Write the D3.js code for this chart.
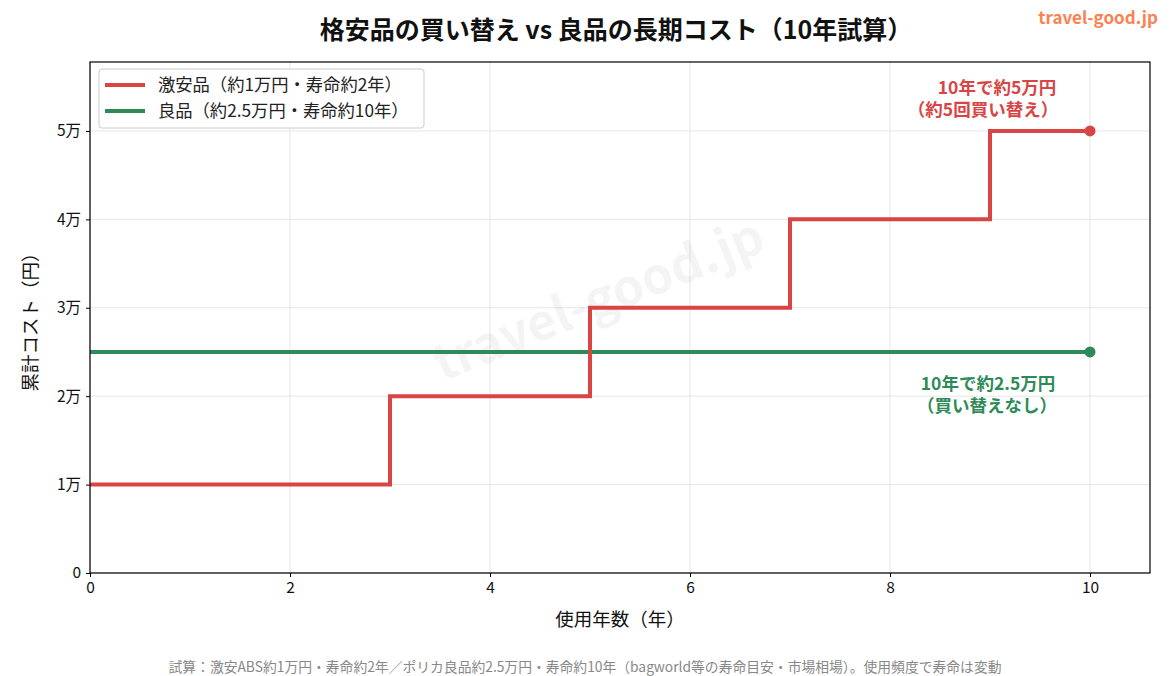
<!DOCTYPE html>
<html>
<head>
<meta charset="utf-8">
<title>格安品の買い替え vs 良品の長期コスト</title>
<script src="https://d3js.org/d3.v7.min.js"></script>
<style>
  body { margin: 0; background: #fff; }
  svg { font-family: "Noto Sans CJK JP", "Noto Sans", sans-serif; }
  .grid line { stroke: #e6e6e6; stroke-width: 1; }
</style>
</head>
<body>
<svg id="chart" width="1170" height="676"></svg>
<script>
// data
var cheapYears = [0, 3, 5, 7, 9, 10];
var cheapCost = [10000, 20000, 30000, 40000, 50000, 50000];
var goodYears = [0, 10];
var goodCost = [25000, 25000];
var xTicks = [0, 2, 4, 6, 8, 10];
var yTicks = [0, 10000, 20000, 30000, 40000, 50000];
var yTickLabels = ["0", "1万", "2万", "3万", "4万", "5万"];

var red = "#d94444", green = "#2e8b57";
var font = "'Noto Sans CJK JP', 'Noto Sans', sans-serif";

var svg = d3.select("#chart");
var margin = {top: 62, right: 20, bottom: 103, left: 90};
var width = 1170 - margin.left - margin.right;
var height = 676 - margin.top - margin.bottom;

var g = svg.append("g").attr("transform", "translate(" + margin.left + "," + margin.top + ")");

var x = d3.scaleLinear().domain([0, 10.6]).range([0, width]);
var y = d3.scaleLinear().domain([0, 57800]).range([height, 0]);

// grid
g.append("g").attr("class", "grid")
  .selectAll("line.v").data(xTicks).enter().append("line")
  .attr("x1", function(d){ return x(d); }).attr("x2", function(d){ return x(d); })
  .attr("y1", 0).attr("y2", height);
g.append("g").attr("class", "grid")
  .selectAll("line.h").data(yTicks).enter().append("line")
  .attr("x1", 0).attr("x2", width)
  .attr("y1", function(d){ return y(d); }).attr("y2", function(d){ return y(d); });

// watermark
g.append("text")
  .attr("transform", "translate(" + (x(5.1)) + "," + (y(30500)) + ") rotate(-22)")
  .attr("text-anchor", "middle")
  .attr("dominant-baseline", "middle")
  .attr("font-size", 50)
  .attr("font-weight", "bold")
  .attr("fill", "#000")
  .attr("fill-opacity", 0.045)
  .text("travel-good.jp");

// lines
var cheapPts = cheapYears.map(function(d, i){ return [d, cheapCost[i]]; });
var goodPts = goodYears.map(function(d, i){ return [d, goodCost[i]]; });

var stepLine = d3.line()
  .x(function(d){ return x(d[0]); })
  .y(function(d){ return y(d[1]); })
  .curve(d3.curveStepAfter);

g.append("path").datum(goodPts)
  .attr("d", stepLine).attr("fill", "none")
  .attr("stroke", green).attr("stroke-width", 4);
g.append("path").datum(cheapPts)
  .attr("d", stepLine).attr("fill", "none")
  .attr("stroke", red).attr("stroke-width", 4);

// end markers
g.append("circle").attr("cx", x(10)).attr("cy", y(50000)).attr("r", 5.5).attr("fill", red);
g.append("circle").attr("cx", x(10)).attr("cy", y(25000)).attr("r", 5.5).attr("fill", green);

// annotations
function note(lines, cxs, ys, color){
  lines.forEach(function(t, i){
    g.append("text")
      .attr("x", cxs[i]).attr("y", ys[i])
      .attr("text-anchor", "middle")
      .attr("font-size", 17.5).attr("font-weight", "bold")
      .attr("fill", color).text(t);
  });
}
note(["10年で約5万円", "（約5回買い替え）"], [x(9.07), x(8.93)], [y(50000) - 37, y(50000) - 15], red);
note(["10年で約2.5万円", "（買い替えなし）"], [x(8.98), x(8.97)], [y(25000) + 38, y(25000) + 60], green);

// axes
var xAxis = d3.axisBottom(x).tickValues(xTicks).tickSize(4).tickPadding(5);
var yAxis = d3.axisLeft(y).tickValues(yTicks).tickSize(4).tickPadding(5)
  .tickFormat(function(d, i){ return yTickLabels[i]; });

var gx = g.append("g").attr("transform", "translate(0," + height + ")").call(xAxis);
var gy = g.append("g").call(yAxis);
[gx, gy].forEach(function(a){
  a.attr("font-family", font).attr("font-size", 15.5);
  a.select(".domain").remove();
  a.selectAll(".tick line").attr("stroke", "#000");
  a.selectAll(".tick text").attr("fill", "#111");
});

// frame
g.append("rect").attr("x", 0).attr("y", 0).attr("width", width).attr("height", height)
  .attr("fill", "none").attr("stroke", "#000").attr("stroke-width", 1.2);

// legend
var lg = g.append("g").attr("transform", "translate(9,7)");
lg.append("rect").attr("width", 325).attr("height", 59).attr("rx", 3)
  .attr("fill", "#fff").attr("fill-opacity", 0.85)
  .attr("stroke", "#ccc");
var legendItems = [
  {label: "激安品（約1万円・寿命約2年）", color: red},
  {label: "良品（約2.5万円・寿命約10年）", color: green}
];
legendItems.forEach(function(d, i){
  var yy = 16 + i * 26;
  lg.append("line").attr("x1", 6).attr("x2", 46).attr("y1", yy).attr("y2", yy)
    .attr("stroke", d.color).attr("stroke-width", 4);
  lg.append("text").attr("x", 59).attr("y", yy + 6)
    .attr("font-size", 17.3).attr("fill", "#222").text(d.label);
});

// titles
svg.append("text").attr("x", 616).attr("y", 39).attr("text-anchor", "middle")
  .attr("font-size", 25).attr("font-weight", "bold").attr("fill", "#111")
  .text("格安品の買い替え vs 良品の長期コスト（10年試算）");
svg.append("text").attr("x", 1158).attr("y", 24).attr("text-anchor", "end")
  .attr("font-size", 17).attr("font-weight", "bold").attr("fill", "#ff7f50")
  .text("travel-good.jp");
svg.append("text").attr("x", margin.left + width / 2).attr("y", 626).attr("text-anchor", "middle")
  .attr("font-size", 18.5).attr("fill", "#111").text("使用年数（年）");
svg.append("text").attr("transform", "translate(37," + (margin.top + height / 2) + ") rotate(-90)")
  .attr("text-anchor", "middle").attr("font-size", 18.5).attr("fill", "#111")
  .text("累計コスト（円）");
svg.append("text").attr("x", 585).attr("y", 672).attr("text-anchor", "middle")
  .attr("font-size", 13.8).attr("fill", "#888")
  .text("試算：激安ABS約1万円・寿命約2年／ポリカ良品約2.5万円・寿命約10年（bagworld等の寿命目安・市場相場）。使用頻度で寿命は変動");
</script>
</body>
</html>
